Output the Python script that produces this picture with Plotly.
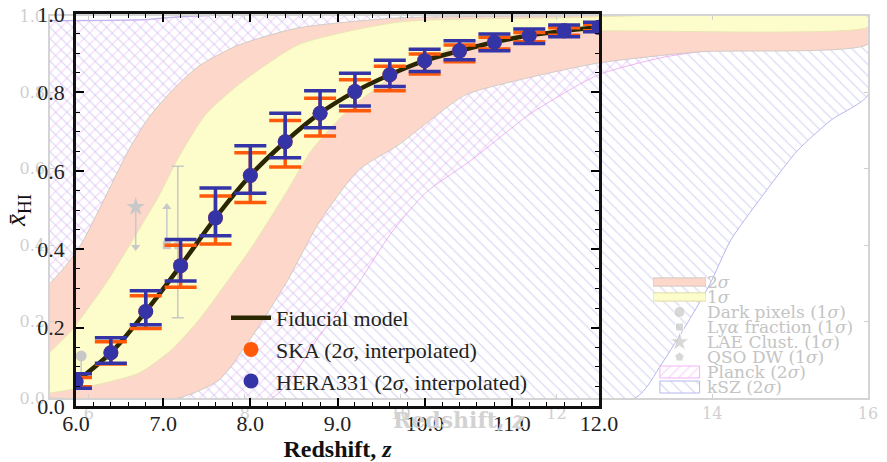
import plotly.graph_objects as go

W, H = 887, 462

# ---------------- foreground (main) data ----------------
z_main = [6.0, 6.4, 6.8, 7.2, 7.6, 8.0, 8.4, 8.8, 9.2, 9.6, 10.0, 10.4, 10.8, 11.2, 11.6, 12.0]
xhi_fid = [0.062, 0.136, 0.241, 0.358, 0.480, 0.588, 0.674, 0.747, 0.802, 0.845, 0.881, 0.906, 0.928, 0.945, 0.957, 0.966]
hera_hi = [0.082, 0.174, 0.294, 0.425, 0.556, 0.664, 0.747, 0.804, 0.849, 0.882, 0.910, 0.932, 0.949, 0.962, 0.972, 0.979]
hera_lo = [0.045, 0.109, 0.207, 0.319, 0.434, 0.5425, 0.633, 0.710, 0.765, 0.815, 0.853, 0.883, 0.906, 0.925, 0.942, 0.955]
ska_hi = [0.073, 0.164, 0.281, 0.410, 0.536, 0.646, 0.728, 0.785, 0.832, 0.867, 0.898, 0.921, 0.941, 0.953, 0.965, 0.974]
ska_lo = [0.049, 0.107, 0.198, 0.303, 0.413, 0.519, 0.610, 0.689, 0.753, 0.804, 0.847, 0.878, 0.911, 0.929, 0.946, 0.957]
main_xticks = [6, 7, 8, 9, 10, 11, 12]
main_xtick_text = ["6.0", "7.0", "8.0", "9.0", "10.0", "11.0", "12.0"]
main_yticks = [0.0, 0.2, 0.4, 0.6, 0.8, 1.0]
main_ytick_text = ["0.0", "0.2", "0.4", "0.6", "0.8", "1.0"]

# ---------------- background (faded) data ----------------
# 2-sigma band
r_up_z = [5.5, 5.69, 5.91, 6.19, 6.51, 6.77, 7.09, 7.41, 7.92, 8.69, 9.97, 12.0, 16.0]
r_up_y = [0.30, 0.343, 0.406, 0.518, 0.649, 0.735, 0.81, 0.869, 0.924, 0.969, 0.995, 1.0, 1.0]
r_lo_z = [5.5, 7.15, 7.67, 8.09, 8.53, 8.95, 9.46, 9.97, 10.83, 11.68, 12.54, 13.82, 16.0]
r_lo_y = [0.0, 0.0, 0.047, 0.160, 0.301, 0.458, 0.597, 0.662, 0.793, 0.840, 0.877, 0.906, 0.927]
# 1-sigma band
y_up_z = [5.5, 5.78, 6.22, 6.64, 6.9, 7.15, 7.5, 7.92, 8.69, 9.97, 12.0, 16.0]
y_up_y = [0.12, 0.178, 0.301, 0.44, 0.53, 0.63, 0.743, 0.82, 0.925, 0.984, 0.995, 0.998]
y_lo_z = [5.5, 6.0, 6.64, 7.06, 7.41, 7.67, 8.09, 8.53, 8.86, 9.33, 9.97, 10.83, 11.68, 12.54, 16.0]
y_lo_y = [0.013, 0.03, 0.065, 0.126, 0.204, 0.275, 0.395, 0.537, 0.649, 0.754, 0.851, 0.929, 0.955, 0.961, 0.971]
# Planck (2 sigma)
p_up_z = [5.5, 6.3, 6.75, 7.0, 7.4, 16.0]
p_up_y = [0.987, 0.988, 0.99, 0.995, 1.0, 1.0]
p_lo_z = [5.5, 8.35, 8.95, 9.46, 9.88, 10.32, 10.91, 11.68, 12.54, 13.40, 14.24, 15.10, 16.0]
p_lo_y = [0.0, 0.0, 0.16, 0.301, 0.432, 0.537, 0.623, 0.746, 0.846, 0.893, 0.916, 0.924, 0.929]
# kSZ (2 sigma)
k_up_z = [5.5, 6.3, 6.75, 7.0, 7.4, 16.0]
k_up_y = [0.988, 0.989, 0.991, 0.996, 1.0, 1.0]
k_lo_z = [5.5, 13.01, 13.35, 13.69, 13.97, 14.24, 14.68, 15.10, 15.53, 16.0]
k_lo_y = [0.0, 0.0, 0.089, 0.199, 0.298, 0.414, 0.539, 0.649, 0.728, 0.793]

# observational constraints (background)
dark_z, dark_x, dark_lim = [5.9], [0.11], [0.05]
lya_z, lya_x, lya_lim = [7.0], [0.40], [0.50]
lae_z, lae_x, lae_lim = [6.6], [0.50], [0.395]
qso_z, qso_x, qso_plus, qso_minus = [7.14], [0.40], [0.207], [0.19]
bg_xticks = [6, 8, 10, 12, 14, 16]
bg_yticks = [0.0, 0.2, 0.4, 0.6, 0.8, 1.0]
bg_ytick_text = ["0.0", "0.2", "0.4", "0.6", "0.8", "1.0"]

bg_legend_labels = ["2<i>σ</i>", "1<i>σ</i>", "Dark pixels (1<i>σ</i>)", "Ly<i>α</i> fraction (1<i>σ</i>)",
                    "LAE Clust. (1<i>σ</i>)", "QSO DW (1<i>σ</i>)", "Planck (2<i>σ</i>)", "kSZ (2<i>σ</i>)"]

# ---------------- styles ----------------
RED = "#fcd7ca"
YEL = "#fdfccb"
PINK = "#f3b3f3"
BLUE_H = "#b6b6ec"
GRAY = "#c8c8c8"
BAND_EDGE = "rgba(205,200,195,0.9)"
C_HERA = "#3434a6"
C_SKA = "#ff5a0a"
C_FID = "#2a2600"
SERIF = "Liberation Serif"
BGFONT = "DejaVu Serif"

fig = go.Figure()

# Planck hatch
fig.add_trace(go.Scatter(
    x=p_up_z + p_lo_z[::-1], y=p_up_y + p_lo_y[::-1], mode="lines", fill="toself",
    fillcolor="rgba(0,0,0,0)", line=dict(color=PINK, width=1, shape="spline", smoothing=0.6),
    fillpattern=dict(shape="/", fgcolor=PINK, bgcolor="rgba(0,0,0,0)", size=8, solidity=0.15),
    xaxis="x", yaxis="y", showlegend=False, hoverinfo="skip"))
# kSZ hatch
fig.add_trace(go.Scatter(
    x=k_up_z + k_lo_z[::-1], y=k_up_y + k_lo_y[::-1], mode="lines", fill="toself",
    fillcolor="rgba(0,0,0,0)", line=dict(color=BLUE_H, width=1, shape="spline", smoothing=0.6),
    fillpattern=dict(shape="\\", fgcolor=BLUE_H, bgcolor="rgba(0,0,0,0)", size=8, solidity=0.15),
    xaxis="x", yaxis="y", showlegend=False, hoverinfo="skip"))
# 2 sigma band
fig.add_trace(go.Scatter(
    x=r_up_z + r_lo_z[::-1], y=r_up_y + r_lo_y[::-1], mode="lines", fill="toself",
    fillcolor=RED, line=dict(color=BAND_EDGE, width=1, shape="spline", smoothing=0.6),
    xaxis="x", yaxis="y", showlegend=False, hoverinfo="skip"))
# 1 sigma band
fig.add_trace(go.Scatter(
    x=y_up_z + y_lo_z[::-1], y=y_up_y + y_lo_y[::-1], mode="lines", fill="toself",
    fillcolor=YEL, line=dict(color="rgba(235,230,180,1)", width=1, shape="spline", smoothing=0.6),
    xaxis="x", yaxis="y", showlegend=False, hoverinfo="skip"))

# constraints
fig.add_trace(go.Scatter(x=dark_z, y=dark_x, mode="markers",
                         marker=dict(symbol="circle", size=11, color=GRAY),
                         error_y=dict(type="data", symmetric=False, array=[0],
                                      arrayminus=[dark_x[0] - dark_lim[0]], color=GRAY, thickness=1.5, width=0),
                         xaxis="x", yaxis="y", showlegend=False, hoverinfo="skip"))
fig.add_trace(go.Scatter(x=lae_z, y=lae_x, mode="markers",
                         marker=dict(symbol="star", size=14, color=GRAY),
                         error_y=dict(type="data", symmetric=False, array=[0],
                                      arrayminus=[lae_x[0] - lae_lim[0]], color=GRAY, thickness=1.5, width=0),
                         xaxis="x", yaxis="y", showlegend=False, hoverinfo="skip"))
fig.add_trace(go.Scatter(x=lya_z, y=lya_x, mode="markers",
                         marker=dict(symbol="square", size=8, color=GRAY),
                         error_y=dict(type="data", symmetric=False, array=[lya_lim[0] - lya_x[0]],
                                      arrayminus=[0], color=GRAY, thickness=1.5, width=0),
                         xaxis="x", yaxis="y", showlegend=False, hoverinfo="skip"))
fig.add_trace(go.Scatter(x=qso_z, y=qso_x, mode="markers",
                         marker=dict(symbol="pentagon", size=10, color=GRAY),
                         error_y=dict(type="data", symmetric=False, array=qso_plus, arrayminus=qso_minus,
                                      color=GRAY, thickness=1.5, width=6),
                         xaxis="x", yaxis="y", showlegend=False, hoverinfo="skip"))
# limit arrow heads
fig.add_trace(go.Scatter(x=dark_z + lae_z + lya_z, y=dark_lim + lae_lim + lya_lim, mode="markers",
                         marker=dict(symbol=["triangle-down", "triangle-down", "triangle-up"], size=8, color=GRAY),
                         xaxis="x", yaxis="y", showlegend=False, hoverinfo="skip"))

# ---------------- background legend (drawn on its own small axes) ----------------
fig.add_trace(go.Bar(x=[1, 1], y=[0, 1], base=[0, 0], orientation="h", width=0.55,
                     marker=dict(color=[RED, YEL], line=dict(color=[BAND_EDGE, "rgba(225,220,170,1)"], width=1)),
                     xaxis="x3", yaxis="y3", showlegend=False, hoverinfo="skip"))
fig.add_trace(go.Bar(x=[0.75], y=[6], base=[0.13], orientation="h", width=0.8,
                     marker=dict(color="white", line=dict(color=PINK, width=1),
                                 pattern=dict(shape="/", fgcolor=PINK, bgcolor="white", size=7, solidity=0.2)),
                     xaxis="x3", yaxis="y3", showlegend=False, hoverinfo="skip"))
fig.add_trace(go.Bar(x=[0.75], y=[7], base=[0.13], orientation="h", width=0.8,
                     marker=dict(color="white", line=dict(color=BLUE_H, width=1),
                                 pattern=dict(shape="\\", fgcolor=BLUE_H, bgcolor="white", size=9, solidity=0.15)),
                     xaxis="x3", yaxis="y3", showlegend=False, hoverinfo="skip"))
fig.add_trace(go.Scatter(x=[0.5, 0.5, 0.5, 0.5], y=[2, 3, 4, 5], mode="markers",
                         marker=dict(symbol=["circle", "square", "star", "pentagon"],
                                     size=[11, 8, 15, 10], color=GRAY),
                         xaxis="x3", yaxis="y3", showlegend=False, hoverinfo="skip"))

# ---------------- foreground traces ----------------
fig.add_trace(go.Scatter(x=z_main, y=xhi_fid, mode="lines", name="Fiducial model",
                         line=dict(color=C_FID, width=4.5, shape="spline"),
                         xaxis="x2", yaxis="y2"))
fig.add_trace(go.Scatter(x=z_main, y=xhi_fid, mode="markers", name="SKA (2<i>σ</i>, interpolated)",
                         marker=dict(color=C_SKA, size=15),
                         error_y=dict(type="data", symmetric=False,
                                      array=[h - f for h, f in zip(ska_hi, xhi_fid)],
                                      arrayminus=[f - l for l, f in zip(ska_lo, xhi_fid)],
                                      color=C_SKA, thickness=3.5, width=16),
                         xaxis="x2", yaxis="y2"))
fig.add_trace(go.Scatter(x=z_main, y=xhi_fid, mode="markers", name="HERA331 (2<i>σ</i>, interpolated)",
                         marker=dict(color=C_HERA, size=15),
                         error_y=dict(type="data", symmetric=False,
                                      array=[h - f for h, f in zip(hera_hi, xhi_fid)],
                                      arrayminus=[f - l for l, f in zip(hera_lo, xhi_fid)],
                                      color=C_HERA, thickness=3.5, width=16),
                         xaxis="x2", yaxis="y2"))

def px_x(p):
    return p / W

def px_y(p):
    return (H - p) / H

fig.update_layout(
    width=W, height=H, margin=dict(l=0, r=0, t=0, b=0, autoexpand=False),
    paper_bgcolor="white", plot_bgcolor="rgba(0,0,0,0)",
    barmode="overlay",
    annotations=[dict(text="<b>Redshift, <i>z</i></b>", xref="paper", yref="paper",
                      x=px_x(459), y=px_y(420), xanchor="center", yanchor="middle", showarrow=False,
                      font=dict(family=BGFONT, size=22, color="#d2d2d2"))],
    xaxis=dict(domain=[px_x(50), px_x(868)], range=[5.5, 16], anchor="y",
               tickvals=bg_xticks, ticks="inside", ticklen=4, tickcolor="#d0d0d0",
               showline=True, linecolor="#d4d4d4", linewidth=1.5, mirror="ticks",
               showgrid=False, zeroline=False,
               tickfont=dict(family=BGFONT, size=16, color="#cfcfcf")),
    yaxis=dict(domain=[px_y(398), px_y(16)], range=[0, 1], anchor="x",
               tickvals=bg_yticks, ticktext=bg_ytick_text, ticks="inside", ticklen=4, tickcolor="#d0d0d0",
               showline=True, linecolor="#d4d4d4", linewidth=1.5, mirror="ticks",
               showgrid=False, zeroline=False,
               tickfont=dict(family=BGFONT, size=16, color="#cfcfcf")),
    xaxis2=dict(domain=[px_x(76), px_x(599)], range=[6, 12], anchor="y2",
                tickvals=main_xticks, ticktext=main_xtick_text, ticks="inside", ticklen=8, tickwidth=1.5,
                tickcolor="black", minor=dict(dtick=0.2, ticks="inside", ticklen=4, tickwidth=1.2, tickcolor="black"),
                showline=True, linecolor="#111", linewidth=2.5, mirror="ticks",
                showgrid=False, zeroline=False, ticklabelstandoff=-4,
                tickfont=dict(family=SERIF, size=22, color="#222"),
                title=dict(text="<b>Redshift, <i>z</i></b>", standoff=1,
                           font=dict(family=SERIF, size=24, color="#111"))),
    yaxis2=dict(domain=[px_y(406), px_y(14)], range=[0, 1], anchor="x2",
                tickvals=main_yticks, ticktext=main_ytick_text, ticks="inside", ticklen=8, tickwidth=1.5,
                tickcolor="black", minor=dict(dtick=0.05, ticks="inside", ticklen=4, tickwidth=1.2, tickcolor="black"),
                showline=True, linecolor="#111", linewidth=2.5, mirror="ticks",
                showgrid=False, zeroline=False, ticklabelstandoff=4,
                tickfont=dict(family=SERIF, size=22, color="#222"),
                title=dict(text="<i>x̄</i><sub>HI</sub>", standoff=4,
                           font=dict(family=SERIF, size=27, color="#111"))),
    xaxis3=dict(domain=[px_x(653), px_x(706)], range=[0, 1], anchor="y3", visible=False),
    yaxis3=dict(domain=[px_y(394.5), px_y(274.5)], range=[7.5, -0.5], anchor="x3", side="right",
                tickvals=list(range(len(bg_legend_labels))), ticktext=bg_legend_labels,
                showline=False, showgrid=False, zeroline=False, ticks="",
                tickfont=dict(family=BGFONT, size=17, color="#c4c4c4")),
    legend=dict(x=px_x(226), y=px_y(297), xanchor="left", yanchor="top",
                bgcolor="rgba(0,0,0,0)", itemwidth=40,
                font=dict(family=SERIF, size=22, color="#222")),
)

fig.write_html("out.html")
